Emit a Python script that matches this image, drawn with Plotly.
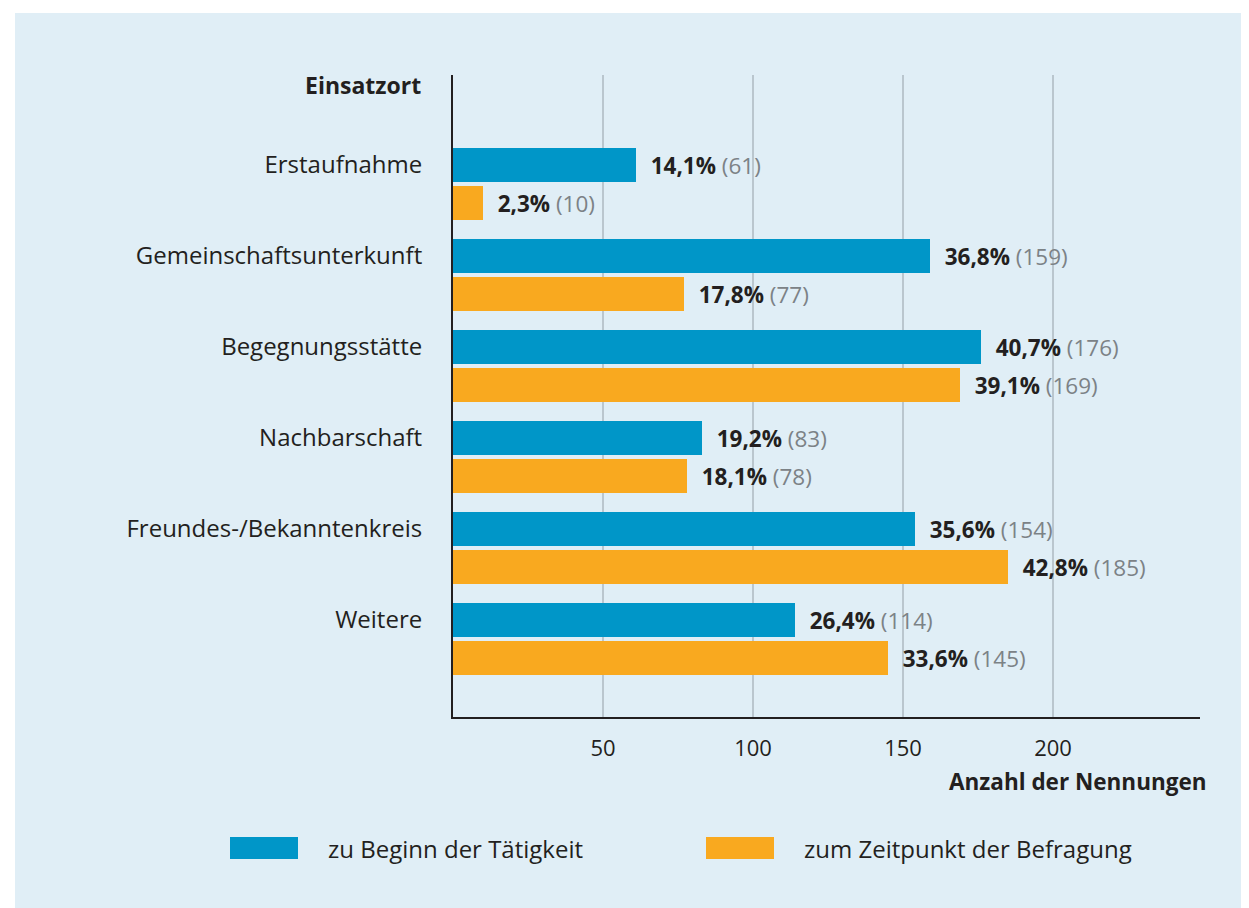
import plotly.graph_objects as go

categories = [
    "Erstaufnahme",
    "Gemeinschaftsunterkunft",
    "Begegnungsstätte",
    "Nachbarschaft",
    "Freundes-/Bekanntenkreis",
    "Weitere",
]
series_names = ["zu Beginn der Tätigkeit", "zum Zeitpunkt der Befragung"]
start_counts = [61, 159, 176, 83, 154, 114]
start_pct = [14.1, 36.8, 40.7, 19.2, 35.6, 26.4]
now_counts = [10, 77, 169, 78, 185, 145]
now_pct = [2.3, 17.8, 39.1, 18.1, 42.8, 33.6]
tick_values = [50, 100, 150, 200]

BLUE = "#0096c8"
ORANGE = "#f9a91f"
PANEL = "#e0eef6"
TEXT = "#231f20"
MUTED = "#7c8286"
FONT = "Open Sans"

# page body has an 8px margin, so work in screen pixels and shift
OFF = 8
W, H = 1249, 908
L, T = 453 - OFF, 75 - OFF
R, B = W - (1200 - OFF), H - (717 - OFF)
PW, PH = W - L - R, H - T - B


def px_x(x):
    return (x - OFF - L) / PW


def px_y(y):
    return 1 - (y - OFF - T) / PH


def bar_label(pct, count):
    pct_text = f"{pct:.1f}".replace(".", ",")
    return f"&nbsp;&nbsp;<b>{pct_text}%</b> <span style='color:{MUTED}'>({count})</span>"


bar_w = 34 / 91
gap = 4 / 91

fig = go.Figure()
fig.add_trace(
    go.Bar(
        y=categories,
        x=start_counts,
        orientation="h",
        name=series_names[0],
        marker=dict(color=BLUE, line=dict(width=0)),
        width=bar_w,
        offset=-bar_w / 2,
        text=[bar_label(p, c) for p, c in zip(start_pct, start_counts)],
        textposition="outside",
        textfont=dict(family=FONT, size=22.5, color=TEXT),
        cliponaxis=False,
    )
)
fig.add_trace(
    go.Bar(
        y=categories,
        x=now_counts,
        orientation="h",
        name=series_names[1],
        marker=dict(color=ORANGE, line=dict(width=0)),
        width=bar_w,
        offset=bar_w / 2 + gap,
        text=[bar_label(p, c) for p, c in zip(now_pct, now_counts)],
        textposition="outside",
        textfont=dict(family=FONT, size=22.5, color=TEXT),
        cliponaxis=False,
    )
)

# white page margin on the top and left of the light blue panel
for x0, x1, y0, y1 in [(0, 15, -20, 930), (0, 1270, 0, 13)]:
    fig.add_shape(
        type="rect",
        xref="paper",
        yref="paper",
        x0=px_x(x0),
        x1=px_x(x1),
        y0=px_y(y1),
        y1=px_y(y0),
        fillcolor="white",
        line=dict(width=0),
        layer="below",
    )

# legend chips
for name, color, x0 in zip(series_names, [BLUE, ORANGE], [230, 706]):
    fig.add_shape(
        type="rect",
        xref="paper",
        yref="paper",
        x0=px_x(x0),
        x1=px_x(x0 + 68),
        y0=px_y(859),
        y1=px_y(837),
        fillcolor=color,
        line=dict(width=0),
    )
    fig.add_annotation(
        x=px_x(x0 + 96),
        y=px_y(848),
        xref="paper",
        yref="paper",
        text=name,
        showarrow=False,
        xanchor="left",
        yanchor="middle",
        font=dict(family=FONT, size=24, color=TEXT),
    )

fig.add_annotation(
    x=px_x(423),
    y=px_y(85),
    xref="paper",
    yref="paper",
    text="<b>Einsatzort</b>",
    showarrow=False,
    xanchor="right",
    yanchor="middle",
    font=dict(family=FONT, size=23, color=TEXT),
)
fig.add_annotation(
    x=px_x(1209),
    y=px_y(781),
    xref="paper",
    yref="paper",
    text="<b>Anzahl der Nennungen</b>",
    showarrow=False,
    xanchor="right",
    yanchor="middle",
    font=dict(family=FONT, size=22.5, color=TEXT),
)

fig.update_layout(
    width=W,
    height=H,
    margin=dict(l=L, r=R, t=T, b=B),
    paper_bgcolor=PANEL,
    plot_bgcolor="rgba(0,0,0,0)",
    barmode="overlay",
    showlegend=False,
    font=dict(family=FONT, size=22, color=TEXT),
    xaxis=dict(
        range=[0, PW / 3],
        tickvals=tick_values,
        showgrid=True,
        gridcolor="#bac6ce",
        gridwidth=1.5,
        zeroline=False,
        showline=True,
        linecolor=TEXT,
        linewidth=2,
        ticks="",
        ticklabelstandoff=11,
        tickfont=dict(family=FONT, size=22, color=TEXT),
    ),
    yaxis=dict(
        type="category",
        range=[(717 - 165) / 91, (75 - 165) / 91],
        showgrid=False,
        zeroline=False,
        showline=True,
        linecolor=TEXT,
        linewidth=2,
        ticks="",
        ticklabelstandoff=24,
        tickfont=dict(family=FONT, size=24, color=TEXT),
    ),
)

# no scrollbars: the figure runs past the window by the body margin
fig.write_html(
    "out.html",
    post_script=(
        "document.documentElement.style.overflow = 'hidden';"
        "document.body.style.overflow = 'hidden';"
    ),
)
